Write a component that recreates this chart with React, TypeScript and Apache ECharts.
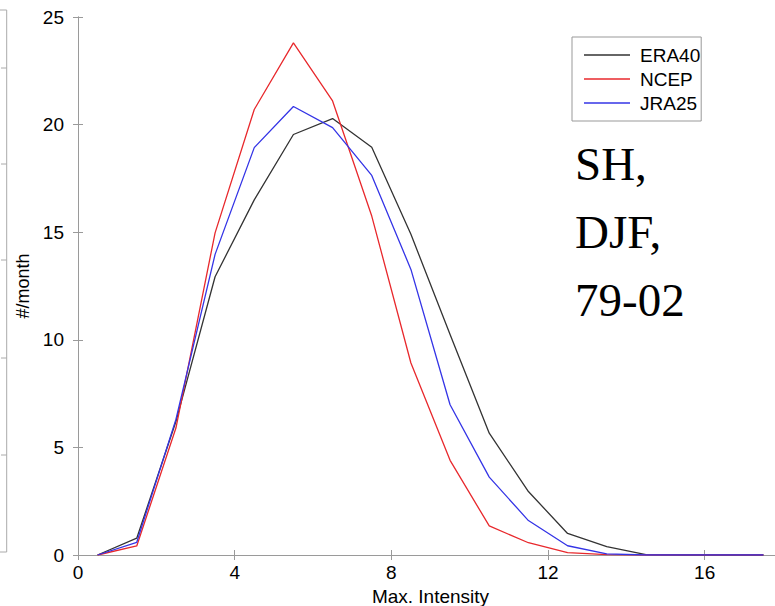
import React, { useEffect, useRef } from "react";
import * as echarts from "echarts";

const binCenters = [0.5, 1.5, 2.5, 3.5, 4.5, 5.5, 6.5, 7.5, 8.5, 9.5, 10.5, 11.5, 12.5, 13.5, 14.5, 15.5, 16.5, 17.5];
const era40 = [0, 0.78, 6.2, 12.93, 16.5, 19.54, 20.28, 18.95, 14.9, 10.25, 5.66, 2.95, 1.0, 0.39, 0.02, 0, 0, 0];
const ncep = [0, 0.42, 5.9, 14.97, 20.7, 23.8, 21.1, 15.75, 8.92, 4.4, 1.35, 0.57, 0.11, 0.02, 0, 0, 0, 0];
const jra25 = [0, 0.59, 6.3, 13.97, 18.93, 20.84, 19.86, 17.64, 13.27, 6.98, 3.62, 1.6, 0.43, 0.05, 0, 0, 0, 0];
const seriesNames = ["ERA40", "NCEP", "JRA25"];
const seriesColors = ["#333333", "#e8282c", "#3434e6"];
const annotationLines = ["SH,", "DJF,", "79-02"];

const SANS = '"Liberation Sans", Arial, sans-serif';
const SERIF = '"Liberation Serif", "Times New Roman", serif';
const AXIS_COLOR = "#9a9a9a";

export default function App() {
  const ref = useRef<HTMLDivElement>(null);
  useEffect(() => {
    if (!ref.current) return;
    const chart = echarts.init(ref.current, undefined, { renderer: "svg" });
    const allData = [era40, ncep, jra25];
    const axisCommon = {
      type: "value" as const,
      axisLine: { show: true, lineStyle: { color: AXIS_COLOR, width: 1 } },
      axisTick: { show: true, inside: true, length: 5, lineStyle: { color: AXIS_COLOR } },
      splitLine: { show: false },
    };
    const leftTicks = [68, 164, 260, 358, 455];
    chart.setOption({
      animation: false,
      backgroundColor: "#ffffff",
      grid: {
        left: 78,
        top: 17,
        width: 705,
        height: 538,
        containLabel: false,
        outerBoundsMode: "none",
      },
      legend: {
        orient: "vertical",
        left: 572,
        top: 37,
        padding: [8, 1, 8, 12],
        borderColor: "#999999",
        borderWidth: 1,
        icon: "rect",
        itemWidth: 46,
        itemHeight: 1.5,
        itemGap: 4,
        data: seriesNames,
        textStyle: { fontFamily: SANS, fontSize: 19, color: "#000", lineHeight: 20, padding: [0, 0, 0, 5] },
      },
      xAxis: [
        {
          ...axisCommon,
          min: 0,
          max: 18,
          interval: 4,
          name: "Max. Intensity",
          nameLocation: "middle",
          nameGap: 31,
          nameTextStyle: { fontFamily: SANS, fontSize: 19, color: "#000" },
          axisLabel: {
            fontFamily: SANS,
            fontSize: 19,
            color: "#000",
            margin: 8,
            formatter: (v: number) => (v % 4 === 0 ? String(v) : ""),
          },
        },
        {
          ...axisCommon,
          position: "top",
          min: 0,
          max: 18,
          interval: 4,
          axisLabel: { show: false },
        },
      ],
      yAxis: [
        {
          ...axisCommon,
          min: 0,
          max: 25,
          interval: 5,
          name: "#/month",
          nameLocation: "middle",
          nameGap: 38,
          nameTextStyle: { fontFamily: SANS, fontSize: 18, color: "#000" },
          axisLabel: { fontFamily: SANS, fontSize: 19, color: "#000", margin: 14 },
        },
        {
          ...axisCommon,
          position: "right",
          min: 0,
          max: 25,
          interval: 5,
          axisLabel: { show: false },
        },
      ],
      series: seriesNames.map((name, i) => ({
        name,
        type: "line",
        symbol: "none",
        color: seriesColors[i],
        lineStyle: { width: 1.3, color: seriesColors[i] },
        data: binCenters.map((x, j) => [x, allData[i][j]]),
      })),
      graphic: [
        ...annotationLines.map((t, i) => ({
          type: "text",
          left: 575,
          top: 140 + i * 68,
          style: { text: t, font: `47px ${SERIF}`, fill: "#000" },
        })),
        {
          type: "polyline",
          shape: { points: [[0, 10], [6.7, 10], [6.7, 552], [0, 552]] },
          style: { stroke: "#aaaaaa", fill: "none", lineWidth: 1 },
        },
        ...leftTicks.map((y) => ({
          type: "line",
          shape: { x1: 1, y1: y, x2: 6.7, y2: y },
          style: { stroke: "#aaaaaa", lineWidth: 1 },
        })),
      ],
    });
    return () => chart.dispose();
  }, []);
  return (
    <div
      ref={ref}
      style={{ position: "fixed", left: 0, top: 0, width: 775, height: 606, background: "#fff" }}
    />
  );
}
